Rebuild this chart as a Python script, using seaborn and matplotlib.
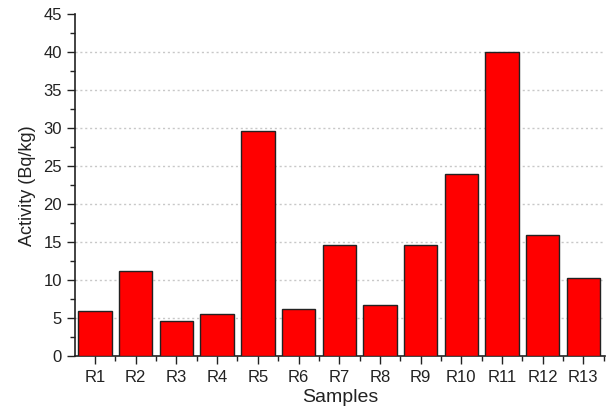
import numpy as np
import pandas as pd
import matplotlib
matplotlib.use("Agg")
import matplotlib.pyplot as plt
from matplotlib.ticker import MultipleLocator, FixedLocator
import seaborn as sns

samples = ["R1", "R2", "R3", "R4", "R5", "R6", "R7", "R8", "R9", "R10", "R11", "R12", "R13"]
activity = [6.0, 11.3, 4.6, 5.6, 29.7, 6.3, 14.6, 6.7, 14.6, 24.0, 40.0, 16.0, 10.3]
grid_levels = [5, 10, 15, 20, 25, 30, 35, 40]

df = pd.DataFrame({"Samples": samples, "Activity": activity})

sns.set_style("white")
plt.rcParams["font.family"] = ["Liberation Sans", "DejaVu Sans"]

fig, ax = plt.subplots(figsize=(6.11, 4.12), dpi=100)
fig.subplots_adjust(left=0.123, right=0.99, top=0.965, bottom=0.135)

sns.barplot(data=df, x="Samples", y="Activity", color="#ff0000", saturation=1,
            edgecolor="#222222", linewidth=1.0, width=0.82, ax=ax, zorder=3)

ax.set_xlim(-0.49, len(samples) - 0.47)
ax.set_ylim(0, 45)
ax.yaxis.set_major_locator(MultipleLocator(5))
ax.yaxis.set_minor_locator(MultipleLocator(2.5))
ax.xaxis.set_minor_locator(FixedLocator(np.arange(-0.5, len(samples), 1.0)))

# dotted reference lines at the inner major levels
for level in grid_levels:
    ax.axhline(level, linestyle=(0, (1.5, 2)), color="#c8c8c8", linewidth=1.0, zorder=0)

for s in ["top", "right"]:
    ax.spines[s].set_visible(False)
for s in ["left", "bottom"]:
    ax.spines[s].set_color("#222222")
    ax.spines[s].set_linewidth(1.2)

ax.tick_params(axis="both", which="major", direction="out", length=6, width=1.0,
               color="#222222", labelsize=12, labelcolor="#222222", bottom=True, left=True)
ax.tick_params(axis="both", which="minor", direction="out", length=3.5, width=1.0,
               color="#222222", bottom=True, left=True)

ax.set_xlabel("Samples", fontsize=14, color="#222222", labelpad=3)
ax.set_ylabel("Activity (Bq/kg)", fontsize=13, color="#222222", labelpad=5)

fig.savefig("out.png", dpi=100)
